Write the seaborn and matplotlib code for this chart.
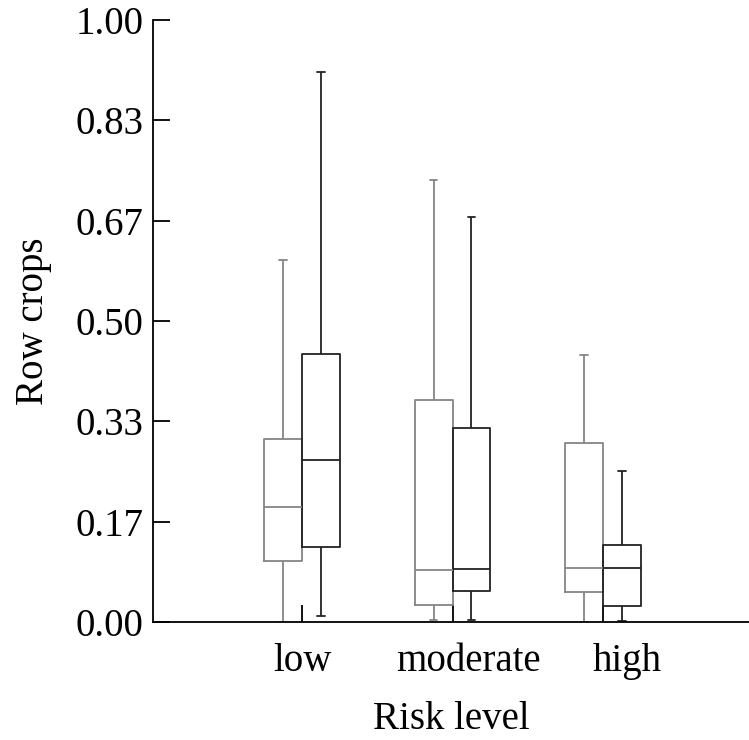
import numpy as np
import pandas as pd
import matplotlib
matplotlib.use("Agg")
import matplotlib.pyplot as plt
import matplotlib.transforms as mtransforms
import seaborn as sns

sns.set_style("ticks")
plt.rcParams["font.family"] = ["Liberation Serif", "DejaVu Serif"]
plt.rcParams["font.size"] = 28
plt.rcParams["axes.labelcolor"] = "black"
plt.rcParams["text.color"] = "black"

# risk levels on the x axis, two series per level (grey first, black second)
risk_levels = ["low", "moderate", "high"]
series = ["group 1", "group 2"]

# five-number summaries: min, q1, median, q3, max
grey_stats = [
    [0.000, 0.101, 0.191, 0.304, 0.601],   # low
    [0.003, 0.029, 0.086, 0.369, 0.734],   # moderate
    [0.000, 0.050, 0.090, 0.298, 0.444],   # high
]
black_stats = [
    [0.010, 0.125, 0.269, 0.445, 0.914],   # low
    [0.003, 0.052, 0.088, 0.322, 0.673],   # moderate
    [0.001, 0.027, 0.089, 0.128, 0.250],   # high
]

y_ticks = np.linspace(0, 1, 7)


def main():
    rows = []
    for name, stats in zip(series, [grey_stats, black_stats]):
        for level, vals in zip(risk_levels, stats):
            for v in vals:
                rows.append({"Risk level": level, "series": name, "value": v})
    df = pd.DataFrame(rows)

    fig = plt.figure(figsize=(7.49, 7.40), dpi=100)
    ax = fig.add_axes([0.2043, 0.1595, 0.7957, 0.8135])

    sns.boxplot(data=df, x="Risk level", y="value", hue="series",
                order=risk_levels, hue_order=series,
                palette=["#858585", "#222222"], fill=False,
                width=0.5, gap=0, whis=(0, 100), linewidth=1.3,
                capwidths=0.05, legend=False, ax=ax)

    ax.set_ylim(0, 1)
    ax.set_xlim(-0.99, 2.97)
    ax.set_yticks(y_ticks)
    ax.set_yticklabels([f"{t:.2f}" for t in y_ticks])
    ax.set_ylabel("Row crops", labelpad=17, color="black")
    ax.set_xlabel("Risk level", labelpad=15, color="black")

    ax.tick_params(axis="both", direction="in", length=12, width=1.3,
                   colors="black", labelcolor="black", labelsize=28)
    ax.tick_params(axis="y", pad=7)
    ax.tick_params(axis="x", pad=15)

    # the tick labels sit a little right of the ticks in the reference
    label_shift_pt = [0, 11.5, 17.5]
    for lab, dx in zip(ax.get_xticklabels(), label_shift_pt):
        lab.set_transform(lab.get_transform() +
                          mtransforms.ScaledTranslation(dx / 72, 0, fig.dpi_scale_trans))

    sns.despine(ax=ax)
    for side in ["left", "bottom"]:
        ax.spines[side].set_linewidth(1.3)
        ax.spines[side].set_color("black")

    fig.savefig("out.png", dpi=100)
    plt.close(fig)


if __name__ == "__main__":
    main()
